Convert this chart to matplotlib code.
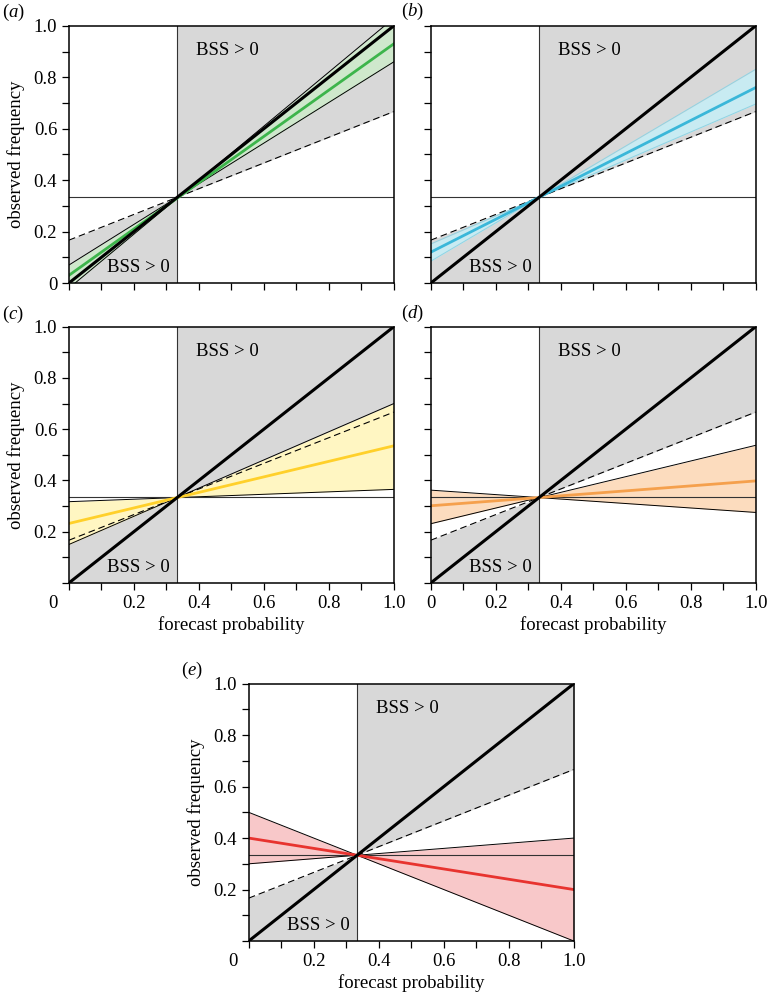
import numpy as np
import matplotlib
matplotlib.use("Agg")
import matplotlib.pyplot as plt
from matplotlib.transforms import ScaledTranslation

plt.rcParams['font.family'] = ['Liberation Serif', 'DejaVu Serif']
plt.rcParams['mathtext.fontset'] = 'custom'
plt.rcParams['mathtext.rm'] = 'Liberation Serif'
plt.rcParams['mathtext.it'] = 'Liberation Serif:italic'

# climatological frequency
clim = 1.0 / 3.0

# reliability lines: observed frequency at forecast probability 0 and 1
panels = ['a', 'b', 'c', 'd', 'e']
centre_lines = [(0.03, 0.93), (0.12, 0.76), (0.232, 0.535), (0.301, 0.398), (0.40, 0.20)]
band_lines_1 = [(0.07, 0.86), (0.152, 0.696), (0.317, 0.365), (0.362, 0.275), (0.50, 0.0)]
band_lines_2 = [(-0.02, 1.03), (0.085, 0.831), (0.15, 0.70), (0.231, 0.537), (0.30, 0.40)]
line_colours = ['#3db54b', '#3ab7d9', '#ffd02a', '#f5a04c', '#e8332f']
fill_colours = ['#cfe8cc', '#c8ebf2', '#fff6c2', '#fcdcbe', '#f8c8c9']
edge_colours = ['black', '#8fd3e3', 'black', 'black', 'black']

xticks = [0, 0.2, 0.4, 0.6, 0.8, 1.0]
xticklabels = ['0', '0.2', '0.4', '0.6', '0.8', '1.0']
yticks = [0, 0.2, 0.4, 0.6, 0.8, 1.0]
yticklabels = ['0', '0.2', '0.4', '0.6', '0.8', '1.0']

# axes rectangles in figure fractions
positions = [
    [0.0898, 0.715, 0.423, 0.259],
    [0.561, 0.715, 0.423, 0.259],
    [0.0898, 0.413, 0.423, 0.258],
    [0.561, 0.413, 0.423, 0.258],
    [0.324, 0.0524, 0.423, 0.259],
]
show_xlabels = [False, False, True, True, True]
show_ylabels = [True, False, True, False, True]
label_pos = [(0.003, 0.987), (0.522, 0.988), (0.003, 0.683), (0.522, 0.684), (0.236, 0.325)]

fig = plt.figure(figsize=(7.68, 9.93), dpi=100)

x = np.array([0.0, clim, 1.0])
x_lo = np.array([0.0, clim])
x_hi = np.array([clim, 1.0])


def line_vals(pair, xs=x):
    y0, y1 = pair
    return y0 + (y1 - y0) * xs


def tick_labels(vals, strs):
    labels = []
    for t in np.arange(0, 1.01, 0.1):
        lab = ''
        for v, s in zip(vals, strs):
            if abs(v - t) < 1e-6:
                lab = s
        labels.append(lab)
    return labels


for i, p in enumerate(panels):
    ax = fig.add_axes(positions[i])

    # BSS > 0 region, either side of the climatology
    ax.fill_between(x_lo, 0, (x_lo + clim) / 2.0, color='#d8d8d8', lw=0, zorder=1)
    ax.fill_between(x_hi, (x_hi + clim) / 2.0, 1, color='#d8d8d8', lw=0, zorder=1)

    b1 = line_vals(band_lines_1[i])
    b2 = line_vals(band_lines_2[i])
    ax.fill_between(x, b1, b2, color=fill_colours[i], lw=0, zorder=2)
    ax.plot(x, b1, color=edge_colours[i], lw=0.7, zorder=3)
    ax.plot(x, b2, color=edge_colours[i], lw=0.7, zorder=3)

    ax.axhline(clim, color='#333333', lw=0.8, zorder=3)
    ax.axvline(clim, color='#333333', lw=0.8, zorder=3)
    ax.plot(x, (x + clim) / 2.0, color='black', lw=0.8, ls=(0, (6, 3.5)), zorder=4)
    ax.plot(x, line_vals(centre_lines[i]), color=line_colours[i], lw=2.0, zorder=5)
    ax.plot([0, 1], [0, 1], color='black', lw=2.2, zorder=6, solid_capstyle='butt')

    ax.text(0.487, 0.905, 'BSS > 0', fontsize=13.5, ha='center', va='center', zorder=7)
    ax.text(0.215, 0.062, 'BSS > 0', fontsize=13.5, ha='center', va='center', zorder=7)

    ax.set_xlim(0, 1)
    ax.set_ylim(0, 1)
    ax.set_xticks(np.arange(0, 1.01, 0.1))
    ax.set_yticks(np.arange(0, 1.01, 0.1))
    ax.tick_params(direction='out', length=5, width=0.9, labelsize=13.5, pad=3.5)

    if show_xlabels[i]:
        ax.set_xticklabels(tick_labels(xticks, xticklabels))
        ax.set_xlabel('forecast probability', fontsize=13.5, labelpad=3)
    else:
        ax.set_xticklabels([])

    if show_ylabels[i]:
        labels = tick_labels(yticks, yticklabels)
        # bottom panels with both labels put the shared 0 in the corner
        if show_xlabels[i]:
            labels[0] = ''
            lab0 = ax.xaxis.get_majorticklabels()[0]
            lab0.set_transform(lab0.get_transform() + ScaledTranslation(-0.16, 0, fig.dpi_scale_trans))
        ax.set_yticklabels(labels)
        ax.set_ylabel('observed frequency', fontsize=13.5, labelpad=6)
    else:
        ax.set_yticklabels([])

    for s in ax.spines.values():
        s.set_linewidth(1.1)
        s.set_zorder(8)

    fig.text(label_pos[i][0], label_pos[i][1], r'($\mathit{%s}$)' % p, fontsize=13.5,
             ha='left', va='center')

fig.savefig('out.png', dpi=100)
